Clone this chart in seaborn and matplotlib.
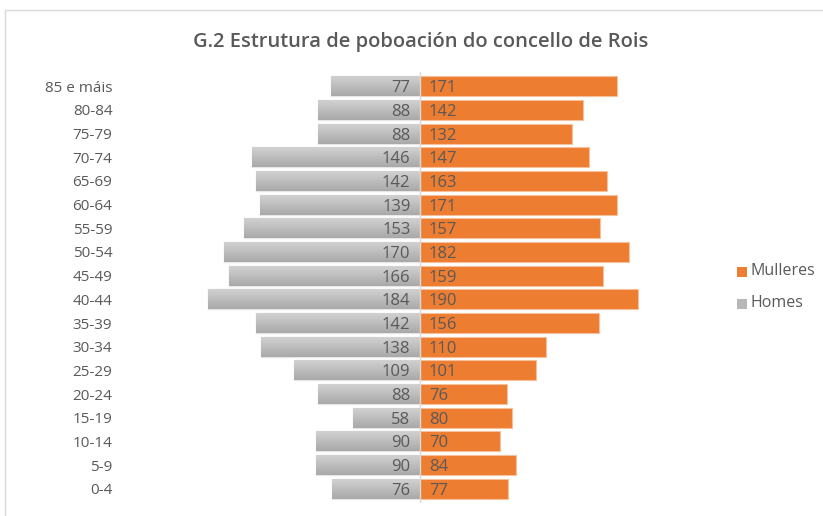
import numpy as np
import pandas as pd
import matplotlib
matplotlib.use("Agg")
import matplotlib.pyplot as plt
import seaborn as sns
from matplotlib.patches import Rectangle

ages = ["85 e máis", "80-84", "75-79", "70-74", "65-69", "60-64", "55-59", "50-54",
        "45-49", "40-44", "35-39", "30-34", "25-29", "20-24", "15-19", "10-14", "5-9", "0-4"]
homes = [77, 88, 88, 146, 142, 139, 153, 170, 166, 184, 142, 138, 109, 88, 58, 90, 90, 76]
mulleres = [171, 142, 132, 147, 163, 171, 157, 182, 159, 190, 156, 110, 101, 76, 80, 70, 84, 77]

ORANGE = "#ED7D31"
TEXT = "#595959"

sns.set_theme(style="white")
plt.rcParams["font.family"] = ["Open Sans", "DejaVu Sans"]

df = pd.DataFrame({
    "age": ages * 2,
    "value": [-v for v in homes] + mulleres,
    "sex": ["Homes"] * len(ages) + ["Mulleres"] * len(ages),
})

fig = plt.figure(figsize=(8.23, 5.16), dpi=100)
ax = fig.add_axes([118 / 823, 1 - 503 / 516, (650 - 118) / 823, (503 - 72) / 516])

sns.barplot(data=df, y="age", x="value", hue="sex", order=ages,
            hue_order=["Homes", "Mulleres"], dodge=False, orient="h",
            palette={"Homes": "#b8b8b8", "Mulleres": ORANGE},
            width=0.84, ax=ax, legend=False, saturation=1)

n = len(ages)
grad = np.linspace(0.82, 0.66, 64).reshape(-1, 1)
for i, p in enumerate(ax.patches[:2 * n]):
    if i < n:
        # grey gradient, lighter on top
        p.set_facecolor("none")
        p.set_edgecolor("#e6e6e6")
        p.set_linewidth(1.0)
        x0, y0 = p.get_x(), p.get_y()
        w, h = p.get_width(), p.get_height()
        im = ax.imshow(grad, cmap="gray", vmin=0, vmax=1, aspect="auto",
                       extent=[x0, x0 + w, y0 + h, y0], zorder=1.5,
                       interpolation="bilinear")
        im.set_clip_path(p)
        ax.text(-8, p.get_y() + h / 2, str(homes[i]), ha="right", va="center_baseline",
                fontsize=12, color=TEXT, zorder=3)
    else:
        p.set_edgecolor("#f5c09a")
        p.set_linewidth(0.8)
        j = i - n
        ax.text(8, p.get_y() + p.get_height() / 2, str(mulleres[j]), ha="left",
                va="center_baseline", fontsize=12, color=TEXT, zorder=3)

ax.set_xlim(-262, 200)
ax.set_ylim(n - 0.5 + 0.1, -0.5 - 0.1)
ax.axvline(0, color="#d9d9d9", lw=1, zorder=2.5)
ax.set_xticks([])
ax.set_xlabel("")
ax.set_ylabel("")
ax.tick_params(axis="y", length=0, pad=4, labelsize=11, labelcolor=TEXT)
for s in ax.spines.values():
    s.set_visible(False)

fig.text(0.511, 1 - 42 / 516, "G.2 Estrutura de poboación do concello de Rois",
         ha="center", va="center", fontsize=14.5, fontweight="semibold", color=TEXT)

# legend
fig.patches.append(Rectangle((737 / 823, 1 - 277 / 516), 10 / 823, 10 / 516,
                             transform=fig.transFigure, facecolor=ORANGE, edgecolor="none"))
fig.patches.append(Rectangle((737 / 823, 1 - 309 / 516), 10 / 823, 10 / 516,
                             transform=fig.transFigure, facecolor="#b8b8b8", edgecolor="none"))
fig.text(751 / 823, 1 - 271 / 516, "Mulleres", ha="left", va="center", fontsize=11.5, color=TEXT)
fig.text(751 / 823, 1 - 303 / 516, "Homes", ha="left", va="center", fontsize=11.5, color=TEXT)

# chart border
fig.patches.append(Rectangle((5 / 823, -0.05), 1.0, 1 - 10 / 516 + 0.05,
                             transform=fig.transFigure, facecolor="none",
                             edgecolor="#d9d9d9", lw=1))

fig.savefig("out.png", dpi=100)
